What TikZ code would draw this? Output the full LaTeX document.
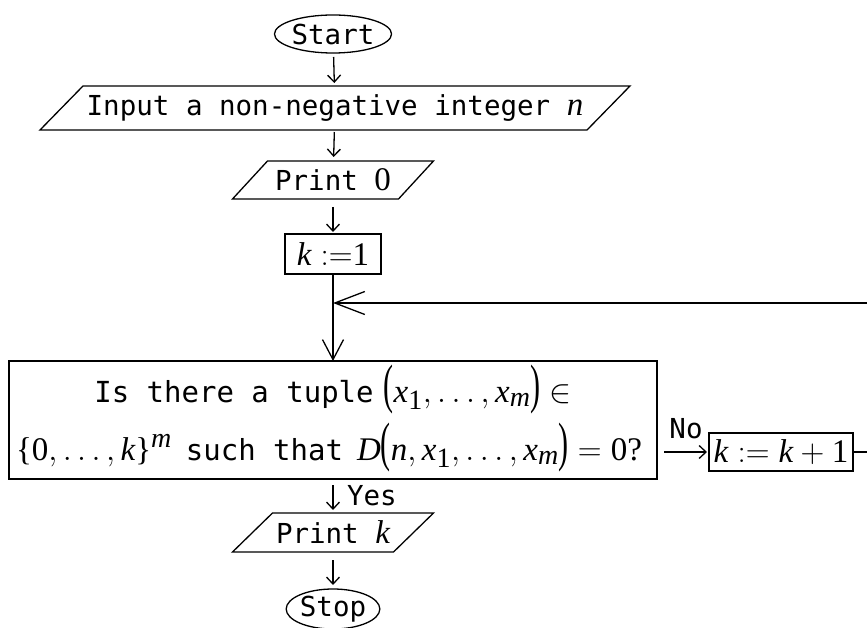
\RequirePackage{fix-cm}
\documentclass[tikz,border=0pt]{standalone}
\usepackage{amsmath}
\usepackage{graphicx}
\usepackage{fontspec}
\setmainfont{Liberation Serif}
\setmonofont{DejaVu Sans Mono}
\usetikzlibrary{arrows.meta,calc,shapes.geometric}
\DeclareMathSizes{33}{33}{28}{24}
\newcommand\mv[1]{\text{\normalfont\itshape #1}}
\newcommand\mr[1]{\text{\normalfont #1}}
\newcommand\mth[1]{{\fontsize{33}{40}\selectfont$#1$}}
\newcommand\LP{\mathopen{\resizebox*{10pt}{49pt}{\normalfont(}}}
\newcommand\RP{\mathclose{\resizebox*{10pt}{49pt}{\normalfont)}}}
\newcommand\tsz{\fontsize{27.5}{33}\selectfont\ttfamily}
\newcommand\bsz{\fontsize{29}{35}\selectfont\ttfamily}
\tikzset{
  x=1pt,y=-1pt,
  every node/.style={inner sep=0pt,outer sep=0pt},
  lw/.style={line width=1.3pt},
  term/.style={ellipse,draw,lw,font=\tsz},
  plain/.style={font=\tsz},
  procbox/.style={draw,lw,font=\tsz},
  sarr/.style={lw,-{Straight Barb[length=7pt,width=13pt,line width=1.3pt]}},
  barr/.style={lw,-{Straight Barb[length=20pt,width=21pt,line width=1.3pt]}},
  harr/.style={lw,-{Straight Barb[length=30pt,width=23pt,line width=1.3pt]}},
}
\newcommand\para[2]{%
  \draw[lw] ($(#1.north west)+(#2,0)$) -- ($(#1.north east)+(#2,0)$)
    -- ($(#1.south east)-(#2,0)$) -- ($(#1.south west)-(#2,0)$) -- cycle;}
\begin{document}
\begin{tikzpicture}
\useasboundingbox (0,0) rectangle (867,628);
\clip (0,0) rectangle (867,628);
% nodes
\node[term,minimum width=107pt,minimum height=38pt] (start) at (333,34) {Start};
\node[plain,minimum width=547pt,minimum height=44pt] (inp) at (335,108)
  {Input a non-negative integer \mth{\mv{n}}};
\para{inp}{21.5}
\node[plain,minimum width=166pt,minimum height=38pt] (p0) at (333,180)
  {Print \mth{\mr{0}}};
\para{p0}{17.5}
\node[procbox,minimum width=96pt,minimum height=40pt] (k1) at (333,254)
  {\mth{\mv{k}\;{:=}\mr{1}}};
\coordinate (mrg) at (333,303);
\node[procbox,minimum width=648pt,minimum height=118pt] (q) at (333,420) {};
\node[font=\bsz,anchor=base] (q1) at (333,402)
  {Is there a tuple\hspace{10pt}\mth{\LP\mv{x}_{\mr{1}},\ldots,\mv{x}_{\mv{m}}\RP\in}};
\node[font=\bsz,anchor=base] (q2) at (329,460)
  {\mth{\mr{\{}\mr{0},\ldots,\mv{k}\mr{\}}^{\mv{m}}}\hspace{14pt}such that\hspace{14pt}\mth{\mv{D}\LP\mv{n},\mv{x}_{\mr{1}},\ldots,\mv{x}_{\mv{m}}\RP=\mr{0?}}};
\node[procbox,minimum width=144pt,minimum height=38pt] (kk) at (781,452)
  {\mth{\mv{k}:=\mv{k}+\mr{1}}};
\node[plain,anchor=base] (no) at (686,438) {No};
\node[plain,anchor=base west] (yes) at (347,505) {Yes};
\node[plain,minimum width=161pt,minimum height=39pt] (pk) at (333,532.5)
  {Print \mth{\mv{k}}};
\para{pk}{20}
\node[term,minimum width=93pt,minimum height=40pt] (stop) at (333,609) {Stop};
\coordinate (loopR) at (900,303);
% connectors
\draw[sarr,shorten <=4pt,shorten >=3pt] (start) -- (inp);
\draw[sarr,shorten <=2pt,shorten >=4pt] (inp) -- (p0);
\draw[sarr,shorten <=8pt,shorten >=2pt] (p0) -- (k1);
\draw[barr] (k1) -- (q);
\draw[sarr,shorten <=7pt,shorten >=2pt] (q.east |- kk.west) -- (kk.west);
\draw[sarr,shorten <=6pt,shorten >=3pt] (q.south) -- (pk.north);
\draw[sarr,shorten <=8pt,shorten >=4pt] (pk) -- (stop);
\draw[harr] (kk.east) -| (loopR) -- (mrg);
\end{tikzpicture}
\end{document}
